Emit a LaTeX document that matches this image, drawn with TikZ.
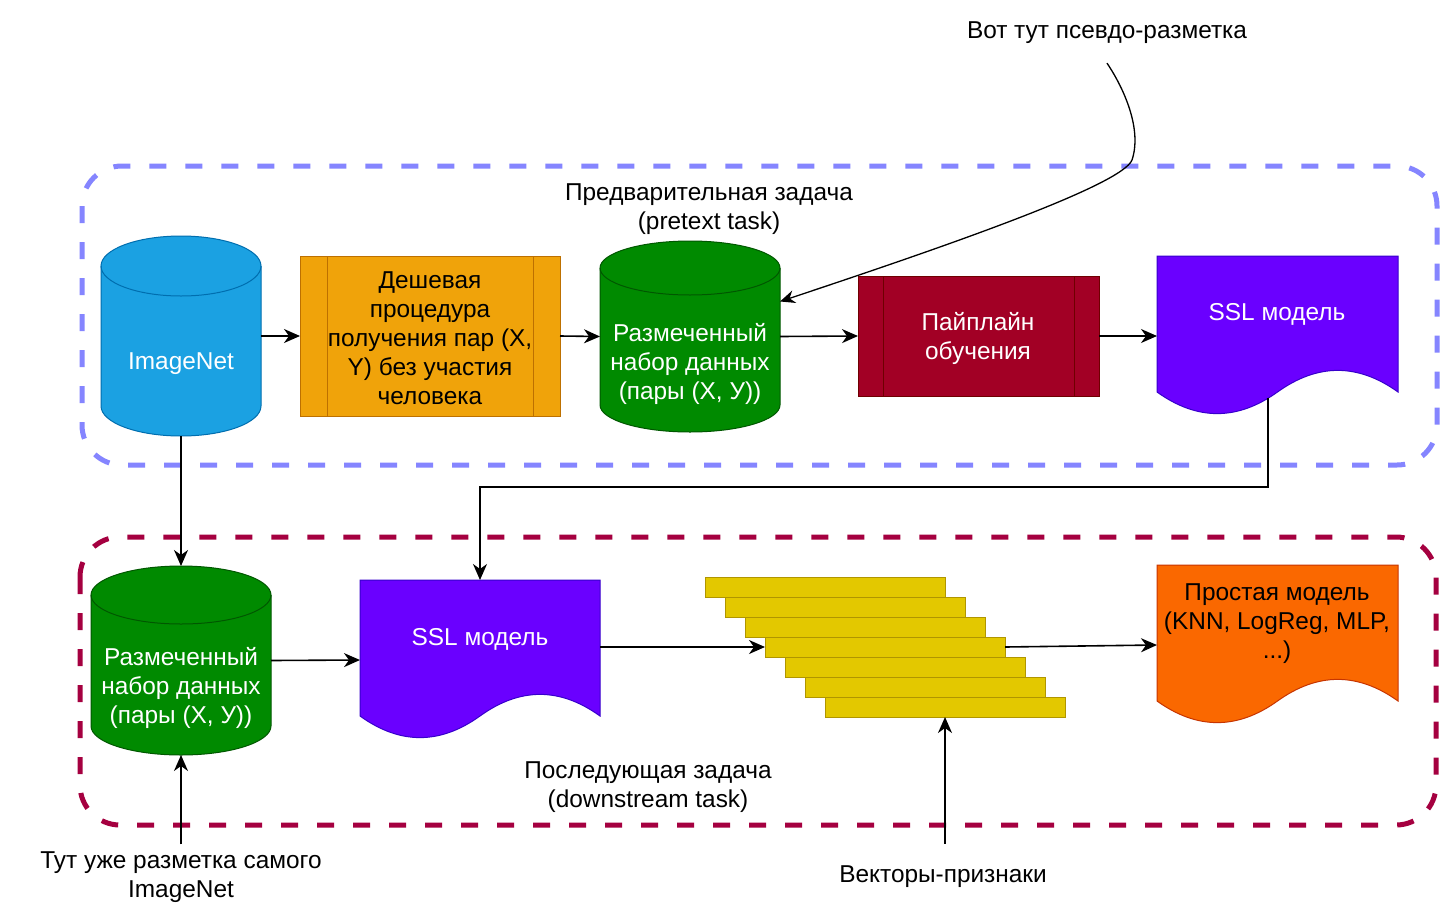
\documentclass[tikz,border=0pt]{standalone}
\usepackage{fontspec}
\setmainfont{Liberation Sans}
\usetikzlibrary{arrows.meta,calc}
\definecolor{blueF}{HTML}{1BA1E2}\definecolor{blueD}{HTML}{006EAF}
\definecolor{orF}{HTML}{F0A30A}\definecolor{orD}{HTML}{BD7000}
\definecolor{grF}{HTML}{008A00}\definecolor{grD}{HTML}{005700}
\definecolor{rdF}{HTML}{A20025}\definecolor{rdD}{HTML}{6F0000}
\definecolor{puF}{HTML}{6A00FF}\definecolor{puD}{HTML}{3700CC}
\definecolor{yeF}{HTML}{E3C800}\definecolor{yeD}{HTML}{B09500}
\definecolor{doF}{HTML}{FA6800}\definecolor{doD}{HTML}{C73500}
\definecolor{contA}{HTML}{8585FF}
\definecolor{contB}{HTML}{A50040}
\newcommand\CylShape[8]{%
  \pgfmathsetmacro\CylRx{#4/2}%
  \fill[#7] (#2,#3+#6) -- (#2,#3+#5-#6) arc[start angle=180,end angle=360,x radius=\CylRx pt,y radius=#6pt] -- (#2+#4,#3+#6) arc[start angle=0,end angle=180,x radius=\CylRx pt,y radius=#6pt] -- cycle;
  \draw[#8,line width=1pt] (#2,#3+#6) -- (#2,#3+#5-#6) arc[start angle=180,end angle=360,x radius=\CylRx pt,y radius=#6pt] -- (#2+#4,#3+#6);
  \draw[#8,line width=1pt] (#2+\CylRx,#3+#6) ellipse[x radius=\CylRx pt,y radius=#6pt];
  \node[inner sep=0pt,outer sep=0pt,minimum width=#4pt,minimum height=#5pt] (#1) at (#2+\CylRx,#3+#5/2) {};
}
\newcommand\ProcShape[8]{%
  \draw[fill=#7,draw=#8,line width=1pt] (#2,#3) rectangle (#2+#4,#3+#5);
  \draw[#8,line width=1pt] (#2+#6,#3) -- (#2+#6,#3+#5) (#2+#4-#6,#3) -- (#2+#4-#6,#3+#5);
  \node[inner sep=0pt,outer sep=0pt,minimum width=#4pt,minimum height=#5pt] (#1) at (#2+#4/2,#3+#5/2) {};
}
\newcommand\DocShape[7]{%
  \begin{scope}[shift={(#2,#3)},x=#4pt,y=-#5pt]
    \draw[fill=#6,draw=#7,line width=1pt] (0,0) -- (1,0) -- (1,0.85) .. controls (0.8333,0.67) and (0.6667,0.67) .. (0.5,0.85) .. controls (0.3333,1.03) and (0.1667,1.03) .. (0,0.85) -- cycle;
  \end{scope}
  \node[inner sep=0pt,outer sep=0pt,minimum width=#4pt,minimum height=#5pt] (#1) at (#2+#4/2,#3+#5/2) {};
}
\tikzset{
  conn/.style={line width=1.6pt,-{Stealth[length=16pt,width=14pt,inset=5pt]}},
  conncurve/.style={line width=1.3pt,-{Stealth[length=15pt,width=13pt,inset=5pt]}},
  lbl/.style={font=\fontsize{24.4}{29}\selectfont,align=center,inner sep=0pt,text=black},
  wtxt/.style={lbl,text=white},
  cont/.style={line width=5pt,dash pattern=on 17pt off 19pt,rounded corners=40pt},
  vecbar/.style={draw=yeD,fill=yeF,line width=1pt,minimum width=240pt,minimum height=20pt,inner sep=0pt,outer sep=0pt},
}
\begin{document}
\begin{tikzpicture}[x=1pt,y=-1pt]
\useasboundingbox (0,0) rectangle (1440,905);
\fill[white] (0,0) rectangle (1440,905);
% containers
\draw[cont,contA] (82,166) rectangle (1437,465);
\draw[cont,contB] (80,537) rectangle (1436,825);
% top row
\CylShape{imgnet}{101}{236}{160}{200}{30}{blueF}{blueD}
\ProcShape{cheap}{300}{256}{260}{160}{27}{orF}{orD}
\CylShape{green1}{600}{241}{180}{191}{27}{grF}{grD}
\ProcShape{pipe}{858}{276}{241}{120}{25}{rdF}{rdD}
\DocShape{ssl1}{1157}{256}{241}{160}{puF}{puD}
% bottom row
\CylShape{green2}{91}{566}{180}{189}{29}{grF}{grD}
\DocShape{ssl2}{360}{580}{240}{160}{puF}{puD}
\foreach \i in {0,...,6}{
  \node[vecbar] (vec\i) at (825+20*\i,587+20*\i) {};
}
\DocShape{simple}{1157}{565}{241}{160}{doF}{doD}
% texts in shapes
\node[wtxt] (timg) at (181,364) {ImageNet};
\node[lbl] (tcheap) at (430,338) {Дешевая\\процедура\\получения пар (X,\\Y) без участия\\человека};
\node[wtxt] (tgreen1) at (690,364) {Размеченный\\набор данных\\(пары (X, У))};
\node[wtxt] (tpipe) at (978,338) {Пайплайн\\обучения};
\node[wtxt] (tssl1) at (1277,314) {SSL модель};
\node[wtxt] (tgreen2) at (181,688) {Размеченный\\набор данных\\(пары (X, У))};
\node[wtxt] (tssl2) at (480,639) {SSL модель};
\node[lbl] (tsimple) at (1277,624) {Простая модель\\(KNN, LogReg, MLP,\\...)};
% free labels
\node[lbl] (lpseudo) at (1107,33) {Вот тут псевдо-разметка};
\node[lbl] (lpre) at (709,209) {Предварительная задача\\(pretext task)};
\node[lbl] (ldown) at (648,787) {Последующая задача\\(downstream task)};
\node[lbl] (limg) at (181,877) {Тут уже разметка самого\\ImageNet};
\node[lbl] (lvec) at (943,877) {Векторы-признаки};
% connectors
\draw[conn] (imgnet.east) -- (cheap.west);
\draw[conn] (cheap.east) -- (green1.west);
\draw[conn] (green1.east) -- (pipe.west);
\draw[conn] (pipe.east) -- (ssl1.west);
\draw[conn] ([xshift=-9.5pt,yshift=18pt]ssl1.south) |- ($(ssl2.north)+(0,-93)$) -- (ssl2.north);
\draw[conn] (imgnet.south) -- (green2.north);
\draw[conn] (green2.east) -- (ssl2.west);
\draw[conn] (ssl2.east |- vec3.west) -- (vec3.west);
\draw[conn] (vec3.east) -- (simple.west);
\draw[conn] ([xshift=2pt,yshift=22pt]lvec.north) -- (vec6.south);
\draw[conn] ([yshift=7pt]limg.north) -- (green2.south);
\draw[conncurve] ([yshift=-19pt]lpseudo.south) .. controls (1125,90) and (1142,130) .. (1132,160) .. controls (1122,185) and (950,245) .. ([yshift=35pt]green1.east);
\end{tikzpicture}
\end{document}
